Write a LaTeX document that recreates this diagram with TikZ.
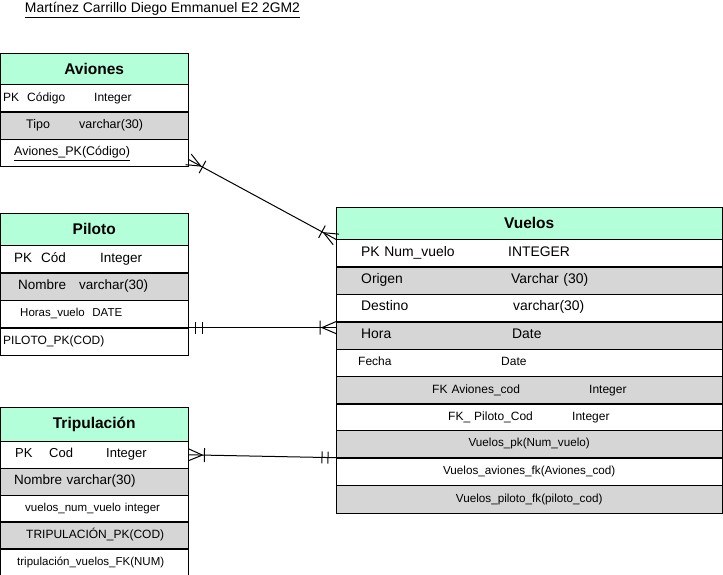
\documentclass[tikz,border=0pt]{standalone}
\usepackage{fontspec}
\setmainfont{Liberation Sans}
\usetikzlibrary{calc, decorations.markings}
\definecolor{hdrgreen}{HTML}{B3FFDA}
\definecolor{rowgray}{HTML}{D6D6D6}

\begin{document}
\begin{tikzpicture}[
    x=1pt, y=-1pt,
    hdr/.style={draw, fill=hdrgreen, anchor=north west, inner sep=0pt, align=center, font=\fontsize{15.5}{18}\selectfont\bfseries},
    row/.style={draw, anchor=north west, inner xsep=0pt, inner ysep=0pt, text width=188pt, align=left, text height=9pt, text depth=3pt},
    vrow/.style={row, text width=386pt},
    gray/.style={fill=rowgray},
    fs/.style={font=\fontsize{#1}{#1}\selectfont},
    link/.style={line width=1pt},
    many start/.style={postaction={decorate, decoration={markings, mark=at position 0 with {\draw (14pt,0pt) -- (0pt,6pt) (14pt,0pt) -- (0pt,-6pt) (16pt,-7pt) -- (16pt,7pt);}}}},
    many end/.style={postaction={decorate, decoration={markings, mark=at position 1 with {\draw (-14pt,0pt) -- (0pt,6pt) (-14pt,0pt) -- (0pt,-6pt) (-16pt,-7pt) -- (-16pt,7pt);}}}},
    one start/.style={postaction={decorate, decoration={markings, mark=at position 0 with {\draw (7pt,-6pt) -- (7pt,6pt) (14pt,-6pt) -- (14pt,6pt);}}}},
    one end/.style={postaction={decorate, decoration={markings, mark=at position 1 with {\draw (-8pt,-6pt) -- (-8pt,6pt) (-14pt,-6pt) -- (-14pt,6pt);}}}}
]
\useasboundingbox (0,0) rectangle (723,575);

% Title
\node[fs=13.9] (title) at (162.5,10) {\underline{Martínez Carrillo Diego Emmanuel E2 2GM2}};

% Aviones
\node[hdr, minimum width=188pt, minimum height=31pt] (av0) at (0,53) {Aviones};
\node[row, minimum height=27pt, fs=12] (av1) at (av0.south west) {\hspace*{3pt}\makebox[91pt][l]{PK\ \ Código}Integer};
\node[row, gray, minimum height=27pt, fs=12.5] (av2) at (av1.south west) {\hspace*{26pt}\makebox[53pt][l]{Tipo}varchar(30)};
\node[row, minimum height=27pt, fs=12.5] (av3) at (av2.south west) {\hspace*{14pt}\underline{Aviones\_PK(Código)}};

% Piloto
\node[hdr, minimum width=188pt, minimum height=32pt] (pi0) at (0,213) {Piloto};
\node[row, minimum height=27pt, fs=13.5] (pi1) at (pi0.south west) {\hspace*{14pt}\makebox[86pt][l]{PK\ \ Cód}Integer};
\node[row, gray, minimum height=27pt, fs=13.5] (pi2) at (pi1.south west) {\hspace*{18pt}\makebox[61pt][l]{Nombre}varchar(30)};
\node[row, minimum height=27pt, fs=11.5] (pi3) at (pi2.south west) {\hspace*{20pt}Horas\_vuelo\ \ DATE};
\node[row, minimum height=27pt, fs=12] (pi4) at (pi3.south west) {\hspace*{3pt}PILOTO\_PK(COD)};

% Tripulacion
\node[hdr, minimum width=188pt, minimum height=34pt] (tr0) at (0,407) {Tripulación};
\node[row, minimum height=26.4pt, fs=13] (tr1) at (tr0.south west) {\hspace*{15pt}\makebox[34pt][l]{PK}\makebox[57pt][l]{Cod}Integer};
\node[row, gray, minimum height=26.4pt, fs=13.5] (tr2) at (tr1.south west) {\hspace*{14pt}Nombre varchar(30)};
\node[row, minimum height=26.4pt, fs=11.5] (tr3) at (tr2.south west) {\hspace*{25pt}vuelos\_num\_vuelo integer};
\node[row, gray, minimum height=26.4pt, fs=12] (tr4) at (tr3.south west) {\hspace*{26pt}TRIPULACIÓN\_PK(COD)};
\node[row, minimum height=26.4pt, fs=11.5] (tr5) at (tr4.south west) {\hspace*{17pt}tripulación\_vuelos\_FK(NUM)};

% Vuelos
\node[hdr, minimum width=386pt, minimum height=32pt] (vu0) at (336,207) {Vuelos};
\node[vrow, minimum height=27pt, fs=13.9] (vu1) at (vu0.south west) {\hspace*{25pt}\makebox[147pt][l]{PK Num\_vuelo}INTEGER};
\node[vrow, gray, minimum height=27pt, fs=13.9] (vu2) at (vu1.south west) {\hspace*{25pt}\makebox[150pt][l]{Origen}Varchar (30)};
\node[vrow, minimum height=27pt, fs=13.9] (vu3) at (vu2.south west) {\hspace*{25pt}\makebox[152pt][l]{Destino}varchar(30)};
\node[vrow, gray, minimum height=27pt, fs=13.9] (vu4) at (vu3.south west) {\hspace*{25pt}\makebox[151pt][l]{Hora}Date};
\node[vrow, minimum height=27pt, fs=12] (vu5) at (vu4.south west) {\hspace*{22pt}\makebox[143pt][l]{Fecha}Date};
\node[vrow, gray, minimum height=27pt, fs=12] (vu6) at (vu5.south west) {\hspace*{96pt}\makebox[157pt][l]{FK Aviones\_cod}Integer};
\node[vrow, minimum height=27pt, fs=12] (vu7) at (vu6.south west) {\hspace*{112pt}\makebox[124pt][l]{FK\_ Piloto\_Cod}Integer};
\node[vrow, gray, minimum height=27.3pt, fs=11.7, align=center] (vu8) at (336,430) {Vuelos\_pk(Num\_vuelo)};
\node[vrow, minimum height=27.3pt, fs=11.7, align=center] (vu9) at (vu8.south west) {Vuelos\_aviones\_fk(Aviones\_cod)};
\node[vrow, gray, minimum height=27.3pt, fs=11.7, align=center] (vu10) at (vu9.south west) {Vuelos\_piloto\_fk(piloto\_cod)};

% Relations
\draw[link, many start, many end] ($(av3.east)+(0,6.5)$) -- (vu0.south west);
\draw[link, one start, many end] (pi4.north east) -- (pi4.north east -| vu4.west);
\draw[link, many start, one end] (tr1.east) -- (vu9.north west);
\end{tikzpicture}
\end{document}
